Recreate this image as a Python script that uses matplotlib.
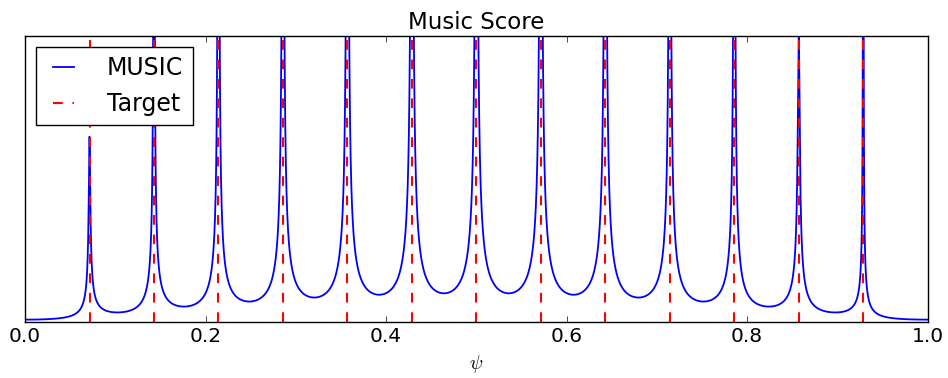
import numpy as np
import matplotlib
matplotlib.use("Agg")
import matplotlib.pyplot as plt

plt.style.use("classic")
plt.rcParams["lines.scale_dashes"] = False

# Target spatial frequencies (psi)
targets = [1/14, 2/14, 3/14, 4/14, 5/14, 6/14, 7/14,
           8/14, 9/14, 10/14, 11/14, 12/14, 13/14]
# Peak value of the pseudo-spectrum at each target
peak_heights = [6.5, 50, 50, 50, 50, 50, 50,
                50, 50, 50, 50, 10.1, 50]
y_top = 10.2
xticks = [0.0, 0.2, 0.4, 0.6, 0.8, 1.0]

# MUSIC pseudo-spectrum from the noise-subspace polynomial whose roots
# sit just inside the unit circle at each target frequency
psi = np.linspace(0.0, 1.0, 14001)
z = np.exp(2j * np.pi * psi)
n_el = len(targets) + 1
poly = np.ones_like(z)
for t, h in zip(targets, peak_heights):
    eps = np.sin(np.pi * t) / ((n_el / 2.0) * h)
    poly *= z - (1.0 - eps) * np.exp(2j * np.pi * t)
spectrum = 1.0 / np.abs(poly)

fig = plt.figure(figsize=(9.48, 3.78), dpi=100, facecolor="white")
ax = fig.add_axes([0.0264, 0.149, 0.9522, 0.7566])

ax.plot(psi, spectrum, color="b", lw=1.3, label="MUSIC")
for i, t in enumerate(targets):
    ax.axvline(t, color="r", lw=1.5, dashes=(7, 7),
               label="Target" if i == 0 else None)

ax.set_xlim(0.0, 1.0)
ax.set_ylim(0.0, y_top)
ax.set_yticks([])
ax.set_xticks(xticks)
ax.tick_params(axis="x", labelsize=14.5)
ax.set_xlabel(r"$\psi$", fontsize=14)
ax.set_title("Music Score", fontsize=16.5)

ax.legend(loc="upper left", fontsize=17, handlelength=1.5,
          handletextpad=1.1, borderaxespad=0.47)

fig.savefig("out.png", dpi=100, facecolor="white")
